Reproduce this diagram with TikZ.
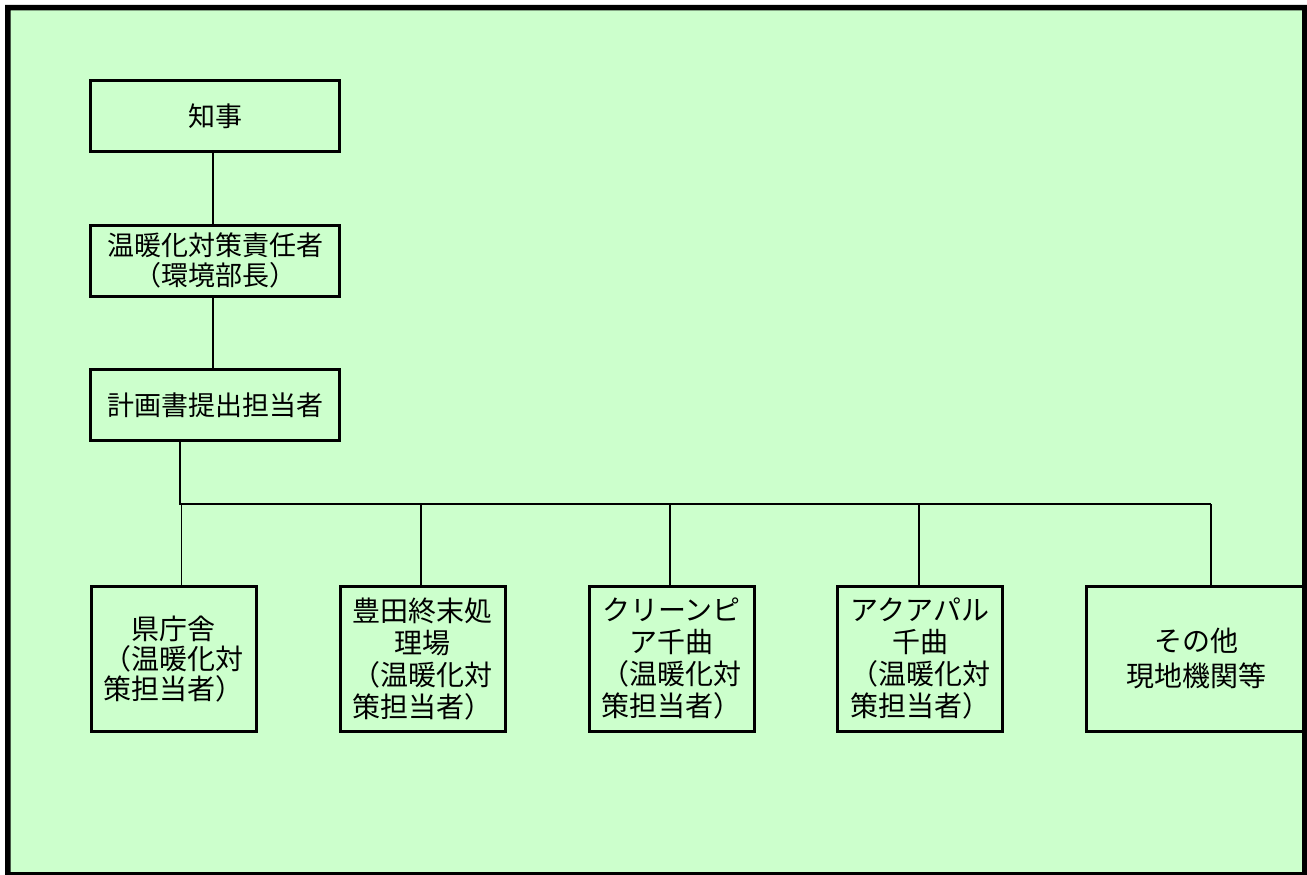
\documentclass[tikz,border=0pt]{standalone}
\usepackage{fontspec}
\newfontfamily\cjk{Noto Sans CJK JP}
\definecolor{bg}{RGB}{204,255,204}
\begin{document}
\begin{tikzpicture}[x=1pt,y=-1pt,
  box/.style={draw=black, line width=3pt, fill=bg, inner sep=0pt, align=center},
  topbox/.style={box, minimum width=248.7pt, minimum height=71pt, font=\cjk\fontsize{27}{30}\selectfont},
  unitbox/.style={box, minimum width=165pt, minimum height=144.7pt, font=\cjk\fontsize{28}{32}\selectfont},
  conn/.style={draw=black, line width=1.7pt}]
\useasboundingbox (0,0) rectangle (1307,875);
\fill[white] (0,0) rectangle (1307,875);
\fill[bg] (5,5) rectangle (1307,875);
% top chain
\node[topbox] (chiji) at (215.3,116.2) {知事};
\node[topbox] (sekinin) at (215.3,260.7) {温暖化対策責任者\\（環境部長）};
\node[topbox] (keikaku) at (215.3,405.3) {計画書提出担当者};
% units
\node[unitbox, font=\cjk\fontsize{28}{30}\selectfont] (kencho) at (173.7,658.7) {県庁舎\\（温暖化対\\策担当者）};
\node[unitbox] (toyota) at (422.5,658.7) {豊田終末処\\理場\\（温暖化対\\策担当者）};
\node[unitbox] (clean) at (671.5,658.7) {クリーンピ\\ア千曲\\（温暖化対\\策担当者）};
\node[unitbox] (aqua) at (920,658.7) {アクアパル\\千曲\\（温暖化対\\策担当者）};
\node[unitbox, minimum width=220pt, font=\cjk\fontsize{28}{35}\selectfont] (sonota) at (1196,658.7) {その他\\現地機関等};
% connectors
\draw[conn] ([xshift=-2pt]chiji.south) -- ([xshift=-2pt]sekinin.north);
\draw[conn] ([xshift=-2pt]sekinin.south) -- ([xshift=-2pt]keikaku.north);
\coordinate (b0) at (180,504);
\coordinate (b1) at (181.5,504);
\coordinate (b2) at (421,504);
\coordinate (b3) at (670,504);
\coordinate (b4) at (919,504);
\coordinate (b5) at (1211,504);
\draw[conn] (keikaku.south -| b0) -- (b0) -- (b5);
\draw[conn] (b1) -- (b1 |- kencho.north);
\draw[conn] (b2) -- (b2 |- toyota.north);
\draw[conn] (b3) -- (b3 |- clean.north);
\draw[conn] (b4) -- (b4 |- aqua.north);
\draw[conn] (b5) -- (b5 |- sonota.north);
% frame
\fill[black, even odd rule] (5,5) rectangle (1307,875) (10.5,10.5) rectangle (1302,872);
\end{tikzpicture}
\end{document}
